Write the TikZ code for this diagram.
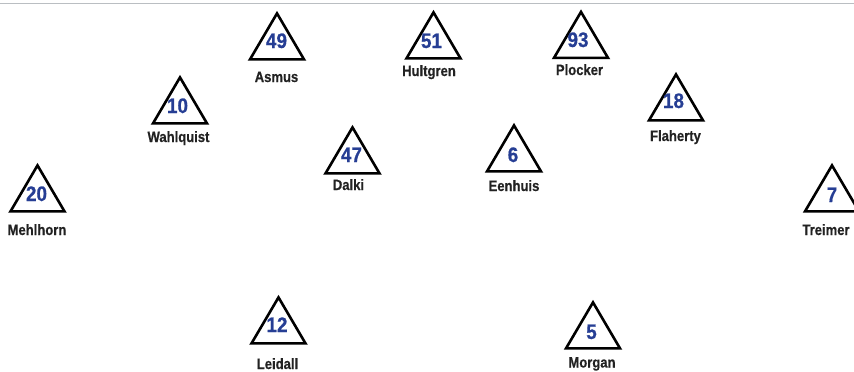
\documentclass[tikz,border=0pt]{standalone}
\usepackage{fontspec}
\setmainfont{Liberation Sans}
\newfontfamily\labfont{Liberation Sans Bold}[FakeStretch=0.87, FakeBold=0.5]
\newfontfamily\numfont{Liberation Sans Bold}[FakeStretch=0.9, FakeBold=0.6]
\definecolor{numblue}{RGB}{38,62,148}
\definecolor{labdark}{RGB}{34,34,34}
\definecolor{rulegrey}{RGB}{186,190,194}
\tikzset{
  tri/.style={draw=black, line width=2.6pt, line join=miter},
  num/.style={anchor=base, inner sep=0pt, text=numblue, font=\numfont\fontsize{21}{21}\selectfont},
  lab/.style={anchor=base, inner sep=0pt, text=labdark, font=\labfont\fontsize{15}{15}\selectfont},
}
\newcommand\plTri[1]{\draw[tri] (#1) -- ++(-27,46) -- ++(54,0) -- cycle;}
\begin{document}
\begin{tikzpicture}[x=1pt,y=-1pt]
\useasboundingbox (0,0) rectangle (854,372);
\clip (0,0) rectangle (854,372);
\coordinate (rl) at (0,3.7);
\coordinate (rr) at (854,3.7);
\draw[rulegrey, line width=1.5pt] (rl) -- (rr);

% Asmus
\coordinate (t49) at (277,13.4); \plTri{t49}
\node[num] (n49) at (276.5,48) {49};
\node[lab] (l49) at (276.5,82) {Asmus};
% Hultgren
\coordinate (t51) at (433.5,12.4); \plTri{t51}
\node[num] (n51) at (431.5,48) {51};
\node[lab] (l51) at (429,76) {Hultgren};
% Plocker
\coordinate (t93) at (581,11.9); \plTri{t93}
\node[num] (n93) at (578,47) {93};
\node[lab] (l93) at (579.5,75) {Plocker};
% Wahlquist
\coordinate (t10) at (180,77.4); \plTri{t10}
\node[num] (n10) at (177.5,113) {10};
\node[lab] (l10) at (178.5,142) {Wahlquist};
% Flaherty
\coordinate (t18) at (676,74.4); \plTri{t18}
\node[num] (n18) at (673.5,108) {18};
\node[lab] (l18) at (675.5,141) {Flaherty};
% Dalki
\coordinate (t47) at (352.5,127.4); \plTri{t47}
\node[num] (n47) at (351.5,162) {47};
\node[lab] (l47) at (348.5,190) {Dalki};
% Eenhuis
\coordinate (t6) at (514,125.4); \plTri{t6}
\node[num] (n6) at (513,162) {6};
\node[lab] (l6) at (514,191) {Eenhuis};
% Mehlhorn
\coordinate (t20) at (37.5,165.4); \plTri{t20}
\node[num] (n20) at (36.5,201) {20};
\node[lab] (l20) at (37,235) {Mehlhorn};
% Treimer
\coordinate (t7) at (832,165.4); \plTri{t7}
\node[num] (n7) at (832,202) {7};
\node[lab] (l7) at (826,235) {Treimer};
% Leidall
\coordinate (t12) at (278.5,297.4); \plTri{t12}
\node[num] (n12) at (277,332) {12};
\node[lab] (l12) at (277.5,369) {Leidall};
% Morgan
\coordinate (t5) at (593,302.4); \plTri{t5}
\node[num] (n5) at (591.5,339) {5};
\node[lab] (l5) at (592,367.5) {Morgan};
\end{tikzpicture}
\end{document}
